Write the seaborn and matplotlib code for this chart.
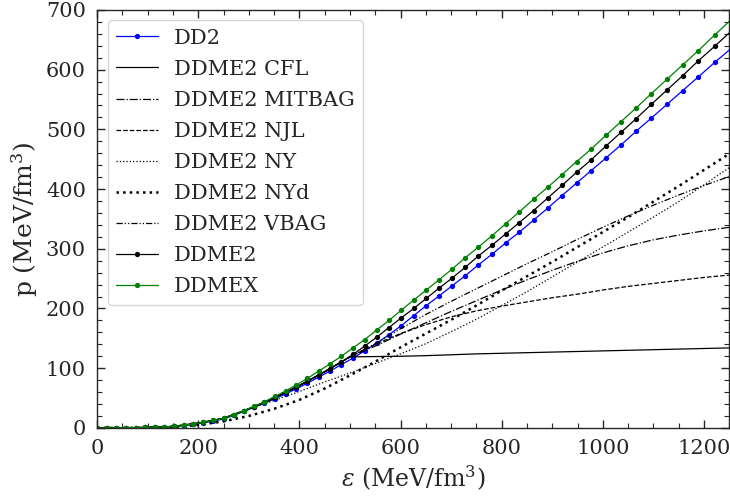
import matplotlib
matplotlib.use("Agg")
from matplotlib import pyplot as plt
from matplotlib.ticker import MultipleLocator
import seaborn as sns

# energy density grid for the unmarked EoS curves (MeV/fm^3)
eps_grid = [0, 50, 100, 150, 200, 250, 300, 350, 400, 450, 500, 550, 600,
            650, 700, 750, 800, 850, 900, 950, 1000, 1050, 1100, 1150, 1200, 1250]

# hadronic part shared by the DDME2 hybrid models (below the transition)
p_cfl = [0, 0.2, 0.8, 2.5, 8, 16, 32, 50, 71, 94, 119, 119.5, 120,
         121, 122.5, 124, 125, 126, 127, 128, 129, 130, 131, 132, 133, 134]
p_mitbag = [0, 0.2, 0.8, 2.5, 8, 16, 32, 50, 71, 94, 119, 137, 157,
            176, 195, 213, 231, 248, 264, 279, 293, 305, 315, 323, 330, 336]
p_njl = [0, 0.2, 0.8, 2.5, 8, 16, 32, 50, 71, 94, 119, 140, 158,
         173, 186, 196, 204, 211, 218, 224, 231, 237, 242, 247, 252, 256]
p_ny = [0, 0.2, 0.8, 2.5, 8, 16, 32, 46, 61, 77, 92, 108, 124,
        141, 161, 182, 205, 228, 253, 278, 303, 328, 353, 379, 407, 436]
p_nyd = [0, 0.1, 0.4, 1.5, 5, 11, 20, 32, 47, 66, 88, 111, 135,
         158, 181, 205, 230, 254, 278, 303, 328, 353, 379, 405, 432, 459]
p_vbag = [0, 0.2, 0.8, 2.5, 8, 16, 32, 50, 71, 94, 119, 141, 166,
          190, 212, 233, 254, 275, 295, 316, 336, 355, 373, 390, 406, 421]

# marked curves (points as drawn)
eps_mk = [0, 19, 38, 57, 76, 95, 114, 133, 152, 171, 190, 210, 230, 250, 270,
          290, 310, 331, 352, 373, 394, 416, 438, 460, 483, 506, 529, 553, 577,
          601, 626, 651, 676, 702, 728, 754, 781, 808, 835, 863, 891, 919, 948,
          977, 1006, 1036, 1066, 1096, 1127, 1158, 1189, 1221, 1253]
p_dd2 = [0, 0.05, 0.1, 0.3, 0.5, 0.7, 1.1, 1.7, 2.6, 4, 6, 8.5, 11.5, 15, 21,
         27.5, 34.5, 41.5, 49, 57, 65.5, 75, 85, 95, 106, 117, 129, 142, 156,
         171, 188, 205, 221, 238, 255, 273, 291, 310, 328, 348, 368, 389, 410,
         431, 452, 474, 497, 519, 542, 565, 588, 612, 635]
p_ddme2 = [0, 0.05, 0.1, 0.3, 0.5, 0.7, 1.1, 1.7, 2.6, 4.2, 6.5, 9.5, 12.5, 16, 22,
           28.5, 35.5, 43, 51, 59.5, 68.5, 78, 88.5, 99, 110.5, 123, 137, 152, 168,
           184, 200, 217, 234, 251, 269, 288, 306, 325, 344, 364, 385, 406, 428,
           449, 472, 495, 518, 542, 566, 590, 615, 639, 664]
p_ddmex = [0, 0.05, 0.1, 0.3, 0.5, 0.7, 1.1, 1.7, 2.6, 4.2, 6.5, 9.5, 12.5, 16, 22,
           29, 36, 44, 53, 62, 72, 83, 95, 107, 120, 134, 148, 164, 180,
           197, 214, 231, 248, 266, 285, 303, 322, 342, 362, 383, 403, 424, 446,
           467, 490, 513, 536, 560, 584, 608, 632, 658, 683]

sns.set_style("ticks")
plt.rcParams['font.family'] = ['DejaVu Serif']
plt.rcParams['mathtext.fontset'] = 'dejavuserif'

fig = plt.figure(figsize=(7.3, 4.97), dpi=100)
ax = fig.add_axes([0.133, 0.139, 0.866, 0.841])

mk = dict(marker='o', markersize=3.8, markeredgewidth=0, linewidth=0.9)
sns.lineplot(x=eps_mk, y=p_dd2, ax=ax, color='blue', label='DD2', sort=False, **mk)
sns.lineplot(x=eps_grid, y=p_cfl, ax=ax, color='k', linestyle='-', linewidth=0.9,
             label='DDME2 CFL', sort=False)
sns.lineplot(x=eps_grid, y=p_mitbag, ax=ax, color='k', linestyle='-.', linewidth=0.9,
             label='DDME2 MITBAG', sort=False)
sns.lineplot(x=eps_grid, y=p_njl, ax=ax, color='k', linestyle='--', linewidth=0.9,
             label='DDME2 NJL', sort=False)
sns.lineplot(x=eps_grid, y=p_ny, ax=ax, color='k', linestyle=':', linewidth=0.9,
             label='DDME2 NY', sort=False)
sns.lineplot(x=eps_grid, y=p_nyd, ax=ax, color='k', linestyle=':', linewidth=1.8,
             label='DDME2 NYd', sort=False)
sns.lineplot(x=eps_grid, y=p_vbag, ax=ax, color='k', linewidth=0.9,
             dashes=False, label='DDME2 VBAG', sort=False)
ax.lines[-1].set_dashes([5, 1.6, 1, 1.6, 1, 1.6])
sns.lineplot(x=eps_mk, y=p_ddme2, ax=ax, color='k', label='DDME2', sort=False, **mk)
sns.lineplot(x=eps_mk, y=p_ddmex, ax=ax, color='green', label='DDMEX', sort=False, **mk)

ax.set_xlim(0, 1250)
ax.set_ylim(0, 700)
ax.xaxis.set_major_locator(MultipleLocator(200))
ax.xaxis.set_minor_locator(MultipleLocator(50))
ax.yaxis.set_major_locator(MultipleLocator(100))
ax.yaxis.set_minor_locator(MultipleLocator(20))
ax.tick_params(which='both', direction='in', top=True, right=True, labelsize=15)
ax.tick_params(which='major', length=6, width=1, pad=8)
ax.tick_params(which='minor', length=3.5, width=0.8)
for s in ax.spines.values():
    s.set_linewidth(1)

ax.set_xlabel(r'$\varepsilon$ (MeV/fm$^3$)', fontsize=17)
ax.set_ylabel(r'p (MeV/fm$^3$)', fontsize=18)

leg = ax.legend(loc='upper left', fontsize=15, handlelength=2.0, labelspacing=0.58,
                frameon=True, fancybox=True, borderaxespad=0.5)
leg.get_frame().set_edgecolor('#cccccc')

fig.savefig('out.png', dpi=100)
